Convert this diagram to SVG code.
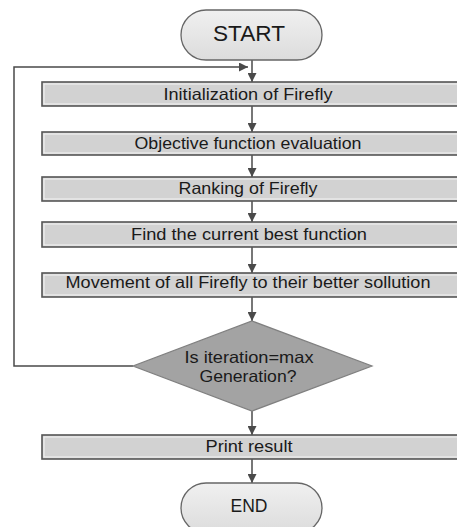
<svg xmlns="http://www.w3.org/2000/svg" width="457" height="527" viewBox="0 0 457 527">
<defs>
<linearGradient id="term" x1="0" y1="0" x2="0" y2="1">
<stop offset="0" stop-color="#f0f0f0"/>
<stop offset="1" stop-color="#dcdcdc"/>
</linearGradient>
<marker id="arr" viewBox="0 0 10 10" refX="10" refY="5" markerWidth="9" markerHeight="9" markerUnits="userSpaceOnUse" orient="auto">
<path d="M0,0 L10,5 L0,10 z" fill="#4a4a4a"/>
</marker>
</defs>
<style>
.box{fill:#d2d2d2;stroke:#555;stroke-width:1.6}
.inner{fill:none;stroke:#f4f4f4;stroke-width:1}
.term{fill:url(#term);stroke:#666;stroke-width:1.3}
.dia{fill:#a3a3a3;stroke:#808080;stroke-width:1.2}
.t{font-family:"Liberation Sans",Arial,sans-serif;font-size:16.5px;fill:#1a1a1a;text-anchor:middle}
.c{fill:none;stroke:#4a4a4a;stroke-width:1.5}
</style>
<g id="connectors">
<line class="c" x1="252" y1="60" x2="252" y2="82" marker-end="url(#arr)"/>
<polyline class="c" points="133,366 14,366 14,67 248,67" marker-end="url(#arr)"/>
<line class="c" x1="252" y1="106" x2="252" y2="132" marker-end="url(#arr)"/>
<line class="c" x1="252" y1="155" x2="252" y2="177" marker-end="url(#arr)"/>
<line class="c" x1="252" y1="201" x2="252" y2="222" marker-end="url(#arr)"/>
<line class="c" x1="252" y1="247" x2="252" y2="273" marker-end="url(#arr)"/>
<line class="c" x1="252" y1="297" x2="252" y2="321" marker-end="url(#arr)"/>
<line class="c" x1="252" y1="411" x2="252" y2="435" marker-end="url(#arr)"/>
<line class="c" x1="252" y1="459" x2="252" y2="483" marker-end="url(#arr)"/>
</g>
<g id="start">
<rect class="term" x="181" y="10" width="141" height="50" rx="25"/>
<text class="t" x="249" y="41" style="font-size:22px" textLength="72" lengthAdjust="spacingAndGlyphs">START</text>
</g>
<g id="init">
<rect class="box" x="42" y="82" width="420" height="24"/>
<rect class="inner" x="44" y="84" width="416" height="20"/>
<text class="t" x="248" y="100" textLength="169" lengthAdjust="spacingAndGlyphs">Initialization of Firefly</text>
</g>
<g id="objective">
<rect class="box" x="42" y="132" width="420" height="23"/>
<rect class="inner" x="44" y="134" width="416" height="19"/>
<text class="t" x="248" y="149" textLength="227" lengthAdjust="spacingAndGlyphs">Objective function evaluation</text>
</g>
<g id="ranking">
<rect class="box" x="42" y="177" width="420" height="24"/>
<rect class="inner" x="44" y="179" width="416" height="20"/>
<text class="t" x="248" y="194" textLength="139" lengthAdjust="spacingAndGlyphs">Ranking of Firefly</text>
</g>
<g id="find">
<rect class="box" x="42" y="222" width="420" height="25"/>
<rect class="inner" x="44" y="224" width="416" height="21"/>
<text class="t" x="249" y="240" textLength="236" lengthAdjust="spacingAndGlyphs">Find the current best function</text>
</g>
<g id="movement">
<rect class="box" x="42" y="273" width="420" height="24"/>
<rect class="inner" x="44" y="275" width="416" height="20"/>
<text class="t" x="248" y="288" textLength="365" lengthAdjust="spacingAndGlyphs">Movement of all Firefly to their better sollution</text>
</g>
<g id="decision">
<polygon class="dia" points="252,321 372,366 252,411 133,366"/>
<text class="t" x="249" y="363" textLength="129" lengthAdjust="spacingAndGlyphs">Is iteration=max</text>
<text class="t" x="248" y="382" textLength="97" lengthAdjust="spacingAndGlyphs">Generation?</text>
</g>
<g id="print">
<rect class="box" x="42" y="435" width="420" height="24"/>
<rect class="inner" x="44" y="437" width="416" height="20"/>
<text class="t" x="249" y="452" textLength="87" lengthAdjust="spacingAndGlyphs">Print result</text>
</g>
<g id="end">
<rect class="term" x="181" y="483" width="141" height="50" rx="25"/>
<text class="t" x="249" y="512" style="font-size:18px" textLength="37" lengthAdjust="spacingAndGlyphs">END</text>
</g>
</svg>
